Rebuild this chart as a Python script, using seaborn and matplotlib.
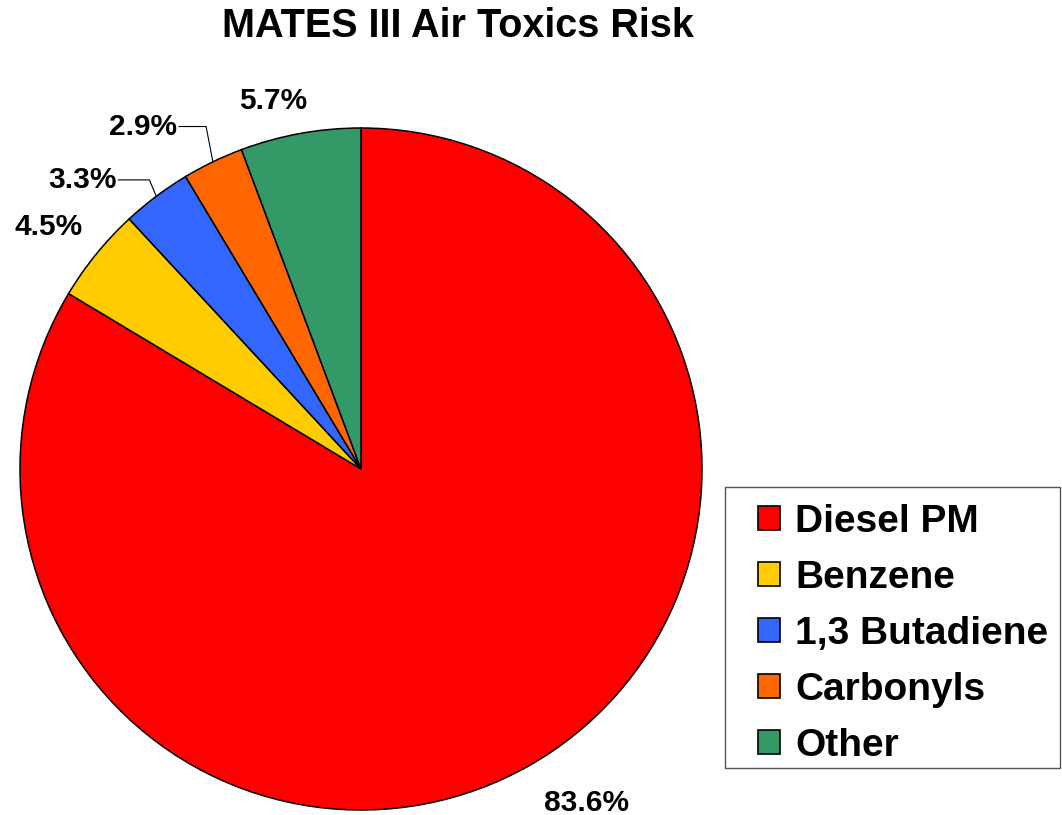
import numpy as np
import matplotlib
matplotlib.use("Agg")
import matplotlib.pyplot as plt
from matplotlib.patches import Rectangle
import seaborn as sns

categories = ["Diesel PM", "Benzene", "1,3 Butadiene", "Carbonyls", "Other"]
values = [83.6, 4.5, 3.3, 2.9, 5.7]
labels = ["83.6%", "4.5%", "3.3%", "2.9%", "5.7%"]
colors = ["#FF0000", "#FFCC00", "#3366FF", "#FF6600", "#339966"]
title = "MATES III Air Toxics Risk"

sns.set_theme(style="white")
plt.rcParams["font.family"] = ["Liberation Sans", "DejaVu Sans"]
plt.rcParams["font.weight"] = "bold"
plt.rcParams["text.color"] = "black"

palette = sns.color_palette(colors)

fig = plt.figure(figsize=(10.62, 8.15), dpi=100)
W, H = 1062, 815
cx, cy, R = 361, 469, 341
ax = fig.add_axes([(cx - R) / W, (H - cy - R) / H, 2 * R / W, 2 * R / H])

wedges, _ = ax.pie(values, colors=palette, startangle=90, counterclock=False,
                   wedgeprops=dict(edgecolor="black", linewidth=1.1),
                   radius=1.0)
ax.set_xlim(-1, 1)
ax.set_ylim(-1, 1)
ax.set_aspect("equal")
ax.axis("off")

# label placement: radial factor, angle shift (deg), leader line?
place = [
    dict(r=1.18, d=4.5, lead=False),
    dict(r=1.16, d=1.3, lead=False),
    dict(r=1.11, d=3.3, lead=True),
    dict(r=1.14, d=2.5, lead=True),
    dict(r=1.11, d=3.1, lead=False),
]
for w, lab, p in zip(wedges, labels, place):
    mid = np.deg2rad((w.theta1 + w.theta2) / 2)
    ang = mid + np.deg2rad(p["d"])
    tx, ty = p["r"] * np.cos(ang), p["r"] * np.sin(ang)
    ex, ey = np.cos(mid), np.sin(mid)
    if p["lead"]:
        ax.text(tx, ty, lab, ha="right", va="center", fontsize=21.5,
                fontweight="bold", color="black")
        hx = ex - 0.02
        ax.plot([tx + 0.005, hx, ex], [ty, ty, ey], color="black", lw=0.8,
                clip_on=False)
    else:
        ax.text(tx, ty, lab, ha="center", va="center", fontsize=21.5,
                fontweight="bold", color="black")

fig.text(458 / W, 1 - 26 / H, title, ha="center", va="center",
         fontsize=28.5, fontweight="bold", color="black")

# legend frame (drawn separately to match the reference box)
fig.patches.append(Rectangle((725 / W, 1 - 768 / H), (1060 - 725) / W,
                             (768 - 487) / H, transform=fig.transFigure,
                             facecolor="white", edgecolor="#555555",
                             linewidth=1.0, zorder=1))

leg = fig.legend(wedges, categories, loc="center left",
                 bbox_to_anchor=(758 / W, 1 - 634 / H), borderaxespad=0,
                 prop=dict(size=28, weight="bold"), frameon=False,
                 handlelength=0.57, handleheight=0.57,
                 handletextpad=0.39, labelspacing=0.515, borderpad=0.0)
leg.set_zorder(3)
for t in leg.get_texts():
    t.set_color("black")
for h in leg.legend_handles:
    h.set_edgecolor("black")
    h.set_linewidth(1.2)

fig.savefig("out.png", dpi=100)
